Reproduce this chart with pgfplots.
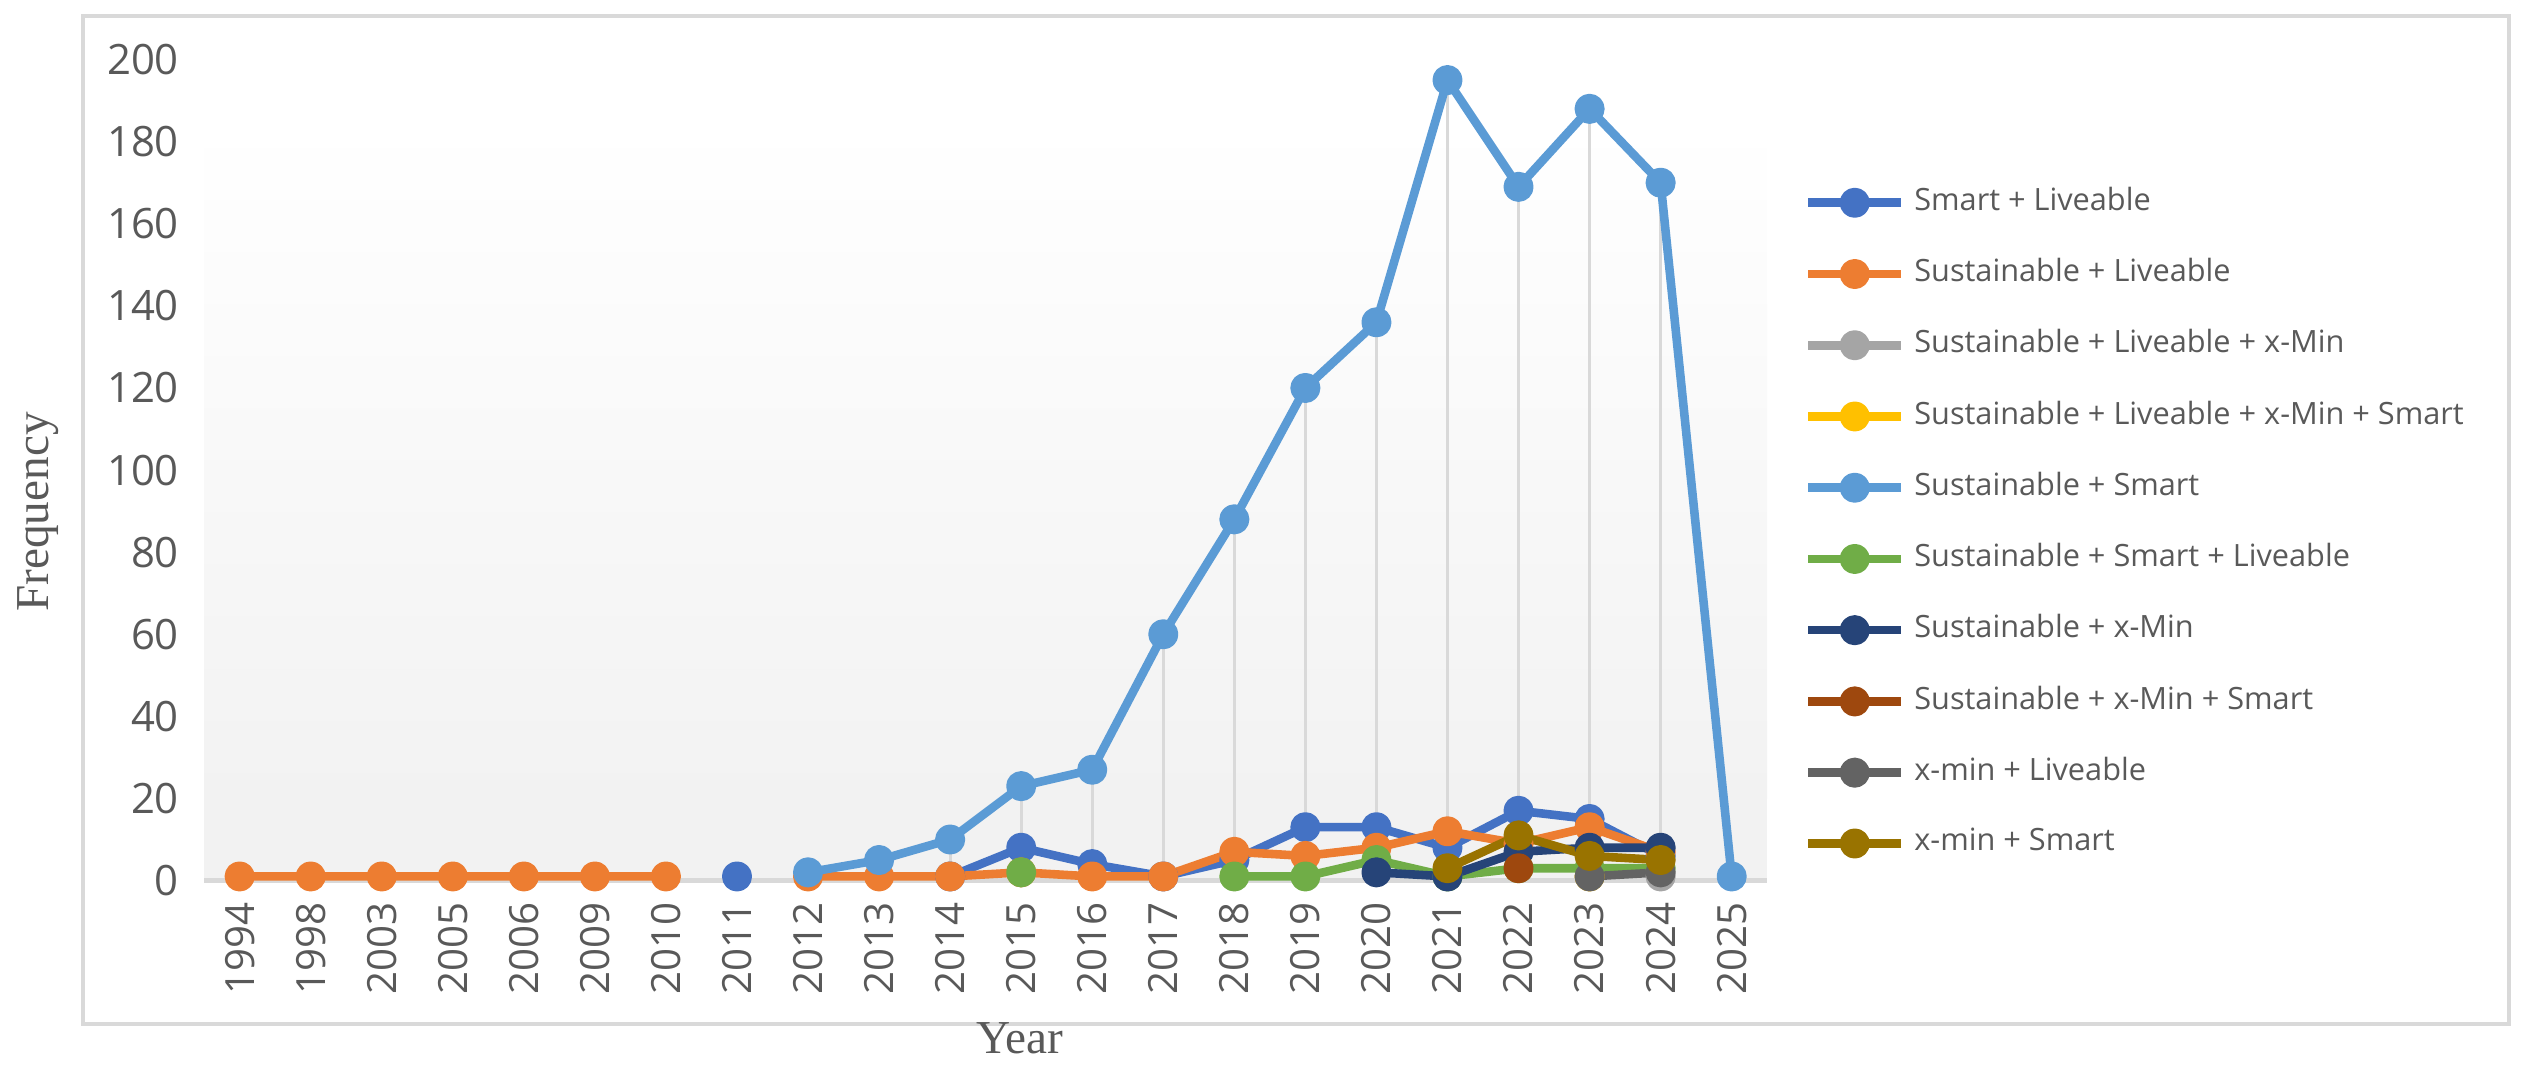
\documentclass[border=0pt]{standalone}
\usepackage{fontspec}
\setmainfont{Open Sans}
\newfontfamily\titlefont{Liberation Serif}
\usepackage{pgfplots}
\pgfplotsset{compat=1.18}
\definecolor{cA}{HTML}{4472C4}
\definecolor{cB}{HTML}{ED7D31}
\definecolor{cC}{HTML}{A5A5A5}
\definecolor{cD}{HTML}{FFC000}
\definecolor{cE}{HTML}{5B9BD5}
\definecolor{cF}{HTML}{70AD47}
\definecolor{cG}{HTML}{264478}
\definecolor{cH}{HTML}{9E480E}
\definecolor{cI}{HTML}{636363}
\definecolor{cJ}{HTML}{997300}
\definecolor{txt}{HTML}{595959}
\definecolor{frm}{HTML}{D9D9D9}
\definecolor{bg}{HTML}{F2F2F2}
\begin{document}
\begin{tikzpicture}
\begin{axis}[
  scale only axis, width=291.3pt, height=153pt,
  xmin=-0.5, xmax=21.5, ymin=0, ymax=200,
  clip=false,
  axis line style={draw=none},
  major tick length=0pt,
  xtick={0,...,21},
  xticklabels={1994,1998,2003,2005,2006,2009,2010,2011,2012,2013,2014,2015,2016,2017,2018,2019,2020,2021,2022,2023,2024,2025},
  ytick={0,20,...,200},
  /pgf/number format/assume math mode=true,
  yticklabel style={font=\fontsize{7.8}{9}\selectfont, text=txt, anchor=east, inner sep=4.5pt},
  xticklabel style={font=\fontsize{7.5}{9}\selectfont, text=txt, rotate=90, anchor=east, inner sep=3.9pt},
  xlabel={Year}, ylabel={Frequency},
  xlabel style={at={(axis description cs:0.522,-0.192)}, anchor=center, font=\titlefont\fontsize{8.8}{10}\selectfont, text=txt},
  ylabel style={at={(axis description cs:-0.106,0.449)}, anchor=center, font=\titlefont\fontsize{8.8}{10}\selectfont, text=txt},
  unbounded coords=jump,
  every axis plot/.append style={line width=1.6pt, line join=round, mark=*, mark size=2pt, mark options={solid, line width=0.4pt}},
  legend style={at={(axis description cs:1.0227,0.846)}, anchor=north west, draw=none, fill=none, inner sep=0pt,
    row sep=7.43pt, column sep=1.6pt, font=\fontsize{5.72}{7}\selectfont, text=txt, nodes={inner sep=0pt, text=txt}},
  legend cell align=left,
  legend image code/.code={\draw[mark repeat=2,mark phase=2,#1] plot coordinates {(0pt,0pt) (8.7pt,0pt) (17.4pt,0pt)};},
]
% background of the plot area
\fill[bg] (axis cs:-0.5,0) rectangle (axis cs:21.5,20);
\shade[bottom color=bg, top color=white] (axis cs:-0.5,20) rectangle (axis cs:21.5,185);
\draw[frm, line width=0.9pt] (axis cs:-0.5,0) -- (axis cs:21.5,0);
% drop lines
\addplot[forget plot, ycomb, draw=frm, line width=0.6pt, mark=none] coordinates {
 (8,2) (9,5) (10,10) (11,23) (12,27) (13,60) (14,88) (15,120) (16,136) (17,195) (18,169) (19,188) (20,170) (21,1)};

\addplot[color=cA, mark options={fill=cA}] coordinates {
 (7,1) (8,nan) (10,1) (11,8) (12,4) (13,1) (14,5) (15,13) (16,13) (17,8) (18,17) (19,15) (20,6)};
\addlegendentry{Smart + Liveable}
\addplot[color=cB, mark options={fill=cB}] coordinates {
 (0,1) (1,1) (2,1) (3,1) (4,1) (5,1) (6,1) (7,nan) (8,1) (9,1) (10,1) (11,2) (12,1) (13,1) (14,7) (15,6) (16,8) (17,12) (18,9) (19,13) (20,7)};
\addlegendentry{Sustainable + Liveable}
\addplot[color=cC, mark options={fill=cC}] coordinates {(20,1)};
\addlegendentry{Sustainable + Liveable + x-Min}
\addplot[color=cD, mark options={fill=cD}] coordinates {(19,1)};
\addlegendentry{Sustainable + Liveable + x-Min + Smart}
\addplot[color=cE, mark options={fill=cE}] coordinates {
 (8,2) (9,5) (10,10) (11,23) (12,27) (13,60) (14,88) (15,120) (16,136) (17,195) (18,169) (19,188) (20,170) (21,1)};
\addlegendentry{Sustainable + Smart}
\addplot[color=cF, mark options={fill=cF}] coordinates {
 (11,2) (12,nan) (14,1) (15,1) (16,5) (17,1) (18,3) (19,3) (20,3)};
\addlegendentry{Sustainable + Smart + Liveable}
\addplot[color=cG, mark options={fill=cG}] coordinates {
 (16,2) (17,1) (18,7) (19,8) (20,8)};
\addlegendentry{Sustainable + x-Min}
\addplot[color=cH, mark options={fill=cH}] coordinates {(18,3)};
\addlegendentry{Sustainable + x-Min + Smart}
\addplot[color=cI, mark options={fill=cI}] coordinates {(19,1) (20,2)};
\addlegendentry{x-min + Liveable}
\addplot[color=cJ, mark options={fill=cJ}] coordinates {(17,3) (18,11) (19,6) (20,5)};
\addlegendentry{x-min + Smart}

% outer frame and picture extent
\draw[frm, line width=0.75pt] (axis description cs:-0.0777,1.0535) rectangle (axis description cs:1.4748,-0.1745);
\path (axis description cs:-0.12873,1.07255) rectangle (axis description cs:1.48610,-0.23137);
\end{axis}
\end{tikzpicture}
\end{document}
